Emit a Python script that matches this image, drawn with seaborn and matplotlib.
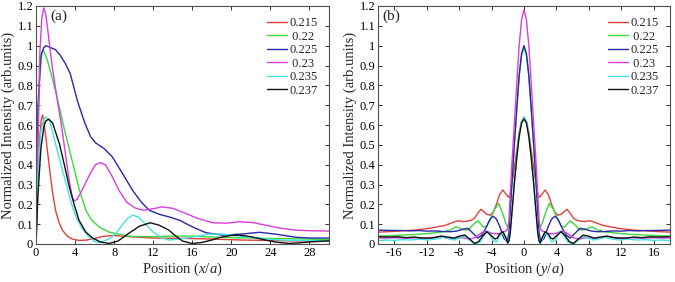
import matplotlib
matplotlib.use("Agg")
import matplotlib.pyplot as plt
import seaborn as sns

# ---- data ----
labels = ["0.215", " 0.22", "0.225", " 0.23", "0.235", "0.237"]
colors = ["#e0403c", "#3cd83c", "#2828a8", "#dc3cdc", "#40e6e6", "#101010"]

# panel (a): intensity along x
red_a_x = [0, 0.2, 0.4, 0.55, 0.68, 0.85, 1.05, 1.36, 1.7, 2.0, 2.35, 2.7, 3.2, 3.7, 4.4, 5.2, 6.0, 6.8, 7.8, 8.8, 10.2, 12, 15.3, 18, 21, 24, 27, 30]
red_a_y = [0, 0.3, 0.55, 0.63, 0.65, 0.6, 0.52, 0.39, 0.26, 0.17, 0.11, 0.07, 0.04, 0.025, 0.018, 0.02, 0.028, 0.038, 0.043, 0.04, 0.035, 0.03, 0.028, 0.025, 0.02, 0.018, 0.015, 0.015]

green_a_x = [0, 0.2, 0.4, 0.6, 0.75, 1.2, 1.7, 2.2, 2.8, 3.3, 3.8, 4.4, 5.1, 5.7, 6.5, 7.5, 8.8, 10, 12, 14, 16, 18, 20, 24, 28, 30]
green_a_y = [0, 0.55, 0.85, 0.96, 0.98, 0.92, 0.83, 0.73, 0.6, 0.5, 0.4, 0.28, 0.17, 0.12, 0.085, 0.06, 0.045, 0.037, 0.037, 0.04, 0.04, 0.035, 0.032, 0.028, 0.025, 0.022]

blue_a_x = [0, 0.2, 0.5, 0.8, 1.0, 1.5, 2.0, 2.5, 3.0, 3.5, 4.25, 5.0, 5.6, 6.1, 7.0, 7.8, 8.8, 9.9, 10.8, 11.6, 12.6, 13.6, 14.7, 15.3, 16.3, 17.4, 19.1, 21, 22.9, 24.5, 26.6, 28, 30]
blue_a_y = [0, 0.7, 0.95, 0.99, 1.0, 0.99, 0.98, 0.95, 0.91, 0.86, 0.72, 0.61, 0.54, 0.51, 0.48, 0.44, 0.36, 0.27, 0.21, 0.17, 0.15, 0.137, 0.12, 0.104, 0.08, 0.057, 0.045, 0.05, 0.059, 0.05, 0.034, 0.03, 0.03]

magenta_a_x = [0, 0.2, 0.4, 0.6, 0.8, 1.0, 1.3, 1.7, 2.2, 2.6, 3.0, 3.4, 3.7, 3.9, 4.2, 4.6, 5.0, 5.6, 6.1, 6.6, 7.1, 7.7, 8.5, 9.3, 10.2, 11.0, 12.0, 12.9, 14.0, 15.3, 16.5, 18.1, 19.5, 20.8, 22.2, 23.5, 25, 26.6, 28, 30]
magenta_a_y = [0, 0.55, 0.97, 1.14, 1.19, 1.16, 1.04, 0.88, 0.72, 0.6, 0.46, 0.32, 0.24, 0.217, 0.225, 0.26, 0.3, 0.36, 0.40, 0.41, 0.40, 0.35, 0.27, 0.21, 0.18, 0.17, 0.178, 0.187, 0.18, 0.155, 0.13, 0.107, 0.105, 0.112, 0.108, 0.095, 0.08, 0.07, 0.067, 0.065]

cyan_a_x = [0, 0.2, 0.5, 0.8, 1.05, 1.4, 2.0, 2.5, 3.1, 3.6, 4.1, 4.7, 5.4, 6.0, 6.5, 7.0, 7.6, 8.2, 8.9, 9.4, 9.9, 10.5, 11.2, 12.0, 12.9, 13.6, 14.7, 16, 17.7, 19, 20, 21.5, 23, 25, 27, 30]
cyan_a_y = [0, 0.35, 0.57, 0.63, 0.64, 0.62, 0.505, 0.41, 0.30, 0.21, 0.137, 0.08, 0.037, 0.012, 0.007, 0.015, 0.03, 0.055, 0.1, 0.13, 0.146, 0.135, 0.10, 0.06, 0.03, 0.02, 0.025, 0.035, 0.05, 0.05, 0.045, 0.035, 0.028, 0.02, 0.018, 0.015]

black_a_x = [0, 0.2, 0.5, 0.8, 1.0, 1.3, 1.7, 2.4, 2.9, 3.4, 3.9, 4.4, 5.1, 5.8, 6.6, 7.5, 8.4, 9.5, 10.6, 11.7, 12.6, 13.6, 14.3, 15, 16, 17, 18, 19, 20, 20.8, 22, 23.5, 24.5, 25.9, 27, 28.5, 30]
black_a_y = [0, 0.25, 0.48, 0.59, 0.62, 0.63, 0.61, 0.505, 0.40, 0.29, 0.2, 0.12, 0.06, 0.03, 0.01, 0.003, 0.015, 0.054, 0.09, 0.107, 0.095, 0.07, 0.04, 0.015, 0.002, 0.008, 0.02, 0.035, 0.043, 0.045, 0.037, 0.02, 0.01, 0.003, 0.006, 0.012, 0.016]

# panel (b): intensity along y, right half (profiles are symmetric about 0)
red_b_x = [0, 0.3, 0.6, 0.9, 1.2, 1.5, 1.7, 1.85, 2.0, 2.2, 2.6, 3.0, 3.4, 3.8, 4.2, 4.6, 5.0, 5.3, 5.7, 6.1, 6.5, 7.0, 7.5, 8.15, 8.8, 9.8, 10.5, 11.5, 12.7, 13.5, 14.5, 15.5, 16.8, 18]
red_b_y = [0.64, 0.62, 0.56, 0.47, 0.38, 0.3, 0.25, 0.235, 0.24, 0.25, 0.272, 0.25, 0.2, 0.16, 0.145, 0.15, 0.165, 0.175, 0.155, 0.13, 0.12, 0.115, 0.113, 0.117, 0.108, 0.093, 0.088, 0.08, 0.074, 0.07, 0.068, 0.065, 0.062, 0.06]

green_b_x = [0, 0.3, 0.6, 0.9, 1.2, 1.5, 1.7, 1.85, 2.0, 2.2, 2.6, 3.1, 3.7, 4.2, 4.6, 5.0, 5.3, 5.7, 6.2, 6.9, 7.5, 8.4, 9.0, 9.8, 10.8, 12, 13.5, 15, 16.5, 18]
green_b_y = [0.99, 0.95, 0.84, 0.67, 0.49, 0.3, 0.17, 0.1, 0.085, 0.1, 0.15, 0.205, 0.17, 0.12, 0.09, 0.085, 0.1, 0.117, 0.1, 0.07, 0.072, 0.087, 0.072, 0.062, 0.058, 0.052, 0.048, 0.045, 0.042, 0.04]

blue_b_x = [0, 0.3, 0.6, 0.9, 1.2, 1.5, 1.7, 1.85, 2.05, 2.5, 3.0, 3.4, 3.8, 4.2, 4.7, 5.2, 5.7, 6.2, 6.9, 7.5, 8.2, 9.0, 10, 11, 12, 13, 14, 15, 16, 17, 18]
blue_b_y = [1.0, 0.96, 0.85, 0.68, 0.5, 0.3, 0.16, 0.06, 0.01, 0.03, 0.09, 0.125, 0.14, 0.125, 0.08, 0.045, 0.03, 0.05, 0.079, 0.075, 0.066, 0.062, 0.063, 0.066, 0.065, 0.068, 0.066, 0.068, 0.068, 0.069, 0.07]

magenta_b_x = [0, 0.3, 0.6, 0.9, 1.2, 1.5, 1.7, 1.85, 2.0, 2.3, 2.8, 3.4, 4.0, 4.6, 5.1, 5.6, 6.2, 6.8, 7.5, 8.1, 8.8, 9.6, 10.4, 11.2, 12, 13, 14, 15, 16, 17, 18]
magenta_b_y = [1.18, 1.13, 1.0, 0.8, 0.6, 0.4, 0.25, 0.12, 0.075, 0.065, 0.055, 0.05, 0.055, 0.065, 0.06, 0.045, 0.03, 0.025, 0.03, 0.035, 0.025, 0.03, 0.038, 0.03, 0.028, 0.032, 0.03, 0.03, 0.032, 0.03, 0.03]

cyan_b_x = [0, 0.3, 0.6, 0.9, 1.2, 1.5, 1.7, 1.85, 2.0, 2.2, 2.6, 3.0, 3.4, 3.9, 4.4, 4.9, 5.4, 6.1, 6.7, 7.3, 7.9, 8.6, 9.2, 9.8, 10.8, 11.9, 12.8, 14, 15, 16, 17, 18]
cyan_b_y = [0.64, 0.62, 0.55, 0.44, 0.31, 0.16, 0.06, 0.015, 0.005, 0.02, 0.055, 0.04, 0.01, 0.02, 0.065, 0.045, 0.01, 0.0, 0.02, 0.04, 0.03, 0.02, 0.025, 0.035, 0.025, 0.02, 0.025, 0.02, 0.022, 0.018, 0.02, 0.017]

black_b_x = [0, 0.3, 0.6, 0.9, 1.2, 1.5, 1.7, 1.85, 2.0, 2.2, 2.6, 3.0, 3.3, 3.6, 4.1, 4.6, 5.1, 5.6, 6.1, 6.7, 7.3, 7.9, 8.6, 9.4, 10.2, 11.0, 11.8, 12.7, 13.5, 14.5, 15.5, 16.5, 18]
black_b_y = [0.63, 0.61, 0.54, 0.43, 0.3, 0.15, 0.055, 0.015, 0.005, 0.03, 0.062, 0.05, 0.03, 0.025, 0.045, 0.062, 0.04, 0.012, 0.003, 0.025, 0.045, 0.04, 0.03, 0.035, 0.04, 0.033, 0.03, 0.03, 0.035, 0.032, 0.036, 0.035, 0.037]

y_ticks = [0, 0.1, 0.2, 0.3, 0.4, 0.5, 0.6, 0.7, 0.8, 0.9, 1.0, 1.1, 1.2]
y_tick_labels = ["0", "0.1", "0.2", "0.3", "0.4", "0.5", "0.6", "0.7", "0.8", "0.9", "1", "1.1", "1.2"]
xa_ticks = [0, 4, 8, 12, 16, 20, 24, 28]
xb_ticks = [-16, -12, -8, -4, 0, 4, 8, 12, 16]

series_a = [(red_a_x, red_a_y), (green_a_x, green_a_y), (blue_a_x, blue_a_y),
            (magenta_a_x, magenta_a_y), (cyan_a_x, cyan_a_y), (black_a_x, black_a_y)]
series_b = [(red_b_x, red_b_y), (green_b_x, green_b_y), (blue_b_x, blue_b_y),
            (magenta_b_x, magenta_b_y), (cyan_b_x, cyan_b_y), (black_b_x, black_b_y)]

# ---- style ----
sns.set_style("ticks")
plt.rcParams["font.family"] = ["Liberation Serif", "DejaVu Serif"]
plt.rcParams["mathtext.fontset"] = "custom"
plt.rcParams["mathtext.rm"] = "Liberation Serif"
plt.rcParams["mathtext.it"] = "Liberation Serif:italic"
plt.rcParams["axes.unicode_minus"] = False

fig = plt.figure(figsize=(6.75, 2.82), dpi=100)
ax_a = fig.add_axes([36 / 675, 1 - 244 / 282, 293 / 675, 238 / 282])
ax_b = fig.add_axes([378 / 675, 1 - 244 / 282, 292 / 675, 238 / 282])


def mirror(xs, ys):
    # full profile from the right half
    fx = [-v for v in reversed(xs[1:])] + list(xs)
    fy = list(reversed(ys[1:])) + list(ys)
    return fx, fy


for (xs, ys), c, lab in zip(series_a, colors, labels):
    sns.lineplot(x=xs, y=ys, color=c, label=lab, ax=ax_a, lw=1.0,
                 estimator=None, sort=False)

for (xs, ys), c, lab in zip(series_b, colors, labels):
    fx, fy = mirror(xs, ys)
    sns.lineplot(x=fx, y=fy, color=c, label=lab, ax=ax_b, lw=1.0,
                 estimator=None, sort=False)

for ax, xl, ticks, lim, tag in [(ax_a, "Position ($x/a$)", xa_ticks, (0, 30), "(a)"),
                                (ax_b, "Position ($y/a$)", xb_ticks, (-18, 18), "(b)")]:
    ax.set_xlim(*lim)
    ax.set_ylim(0, 1.2)
    ax.set_xticks(ticks)
    ax.set_yticks(y_ticks)
    ax.set_yticklabels(y_tick_labels)
    ax.tick_params(direction="in", length=3, width=0.7, labelsize=9,
                   top=True, right=True, pad=2, colors="#303030", labelcolor="black")
    for s in ax.spines.values():
        s.set_color("#505050")
        s.set_linewidth(0.8)
    ax.set_xlabel(xl, fontsize=10.5, labelpad=1)
    ax.set_ylabel("Normalized Intensity (arb.units)", fontsize=10.5, labelpad=2)
    ax.text(0.05 if tag == "(a)" else 0.015, 0.985, tag, transform=ax.transAxes,
            fontsize=11, va="top", ha="left")
    ax.legend(loc="upper right", frameon=False, fontsize=9, handlelength=1.6,
              handletextpad=0.2, labelspacing=0.12, borderaxespad=0.5)

fig.savefig("out.png", dpi=100)
